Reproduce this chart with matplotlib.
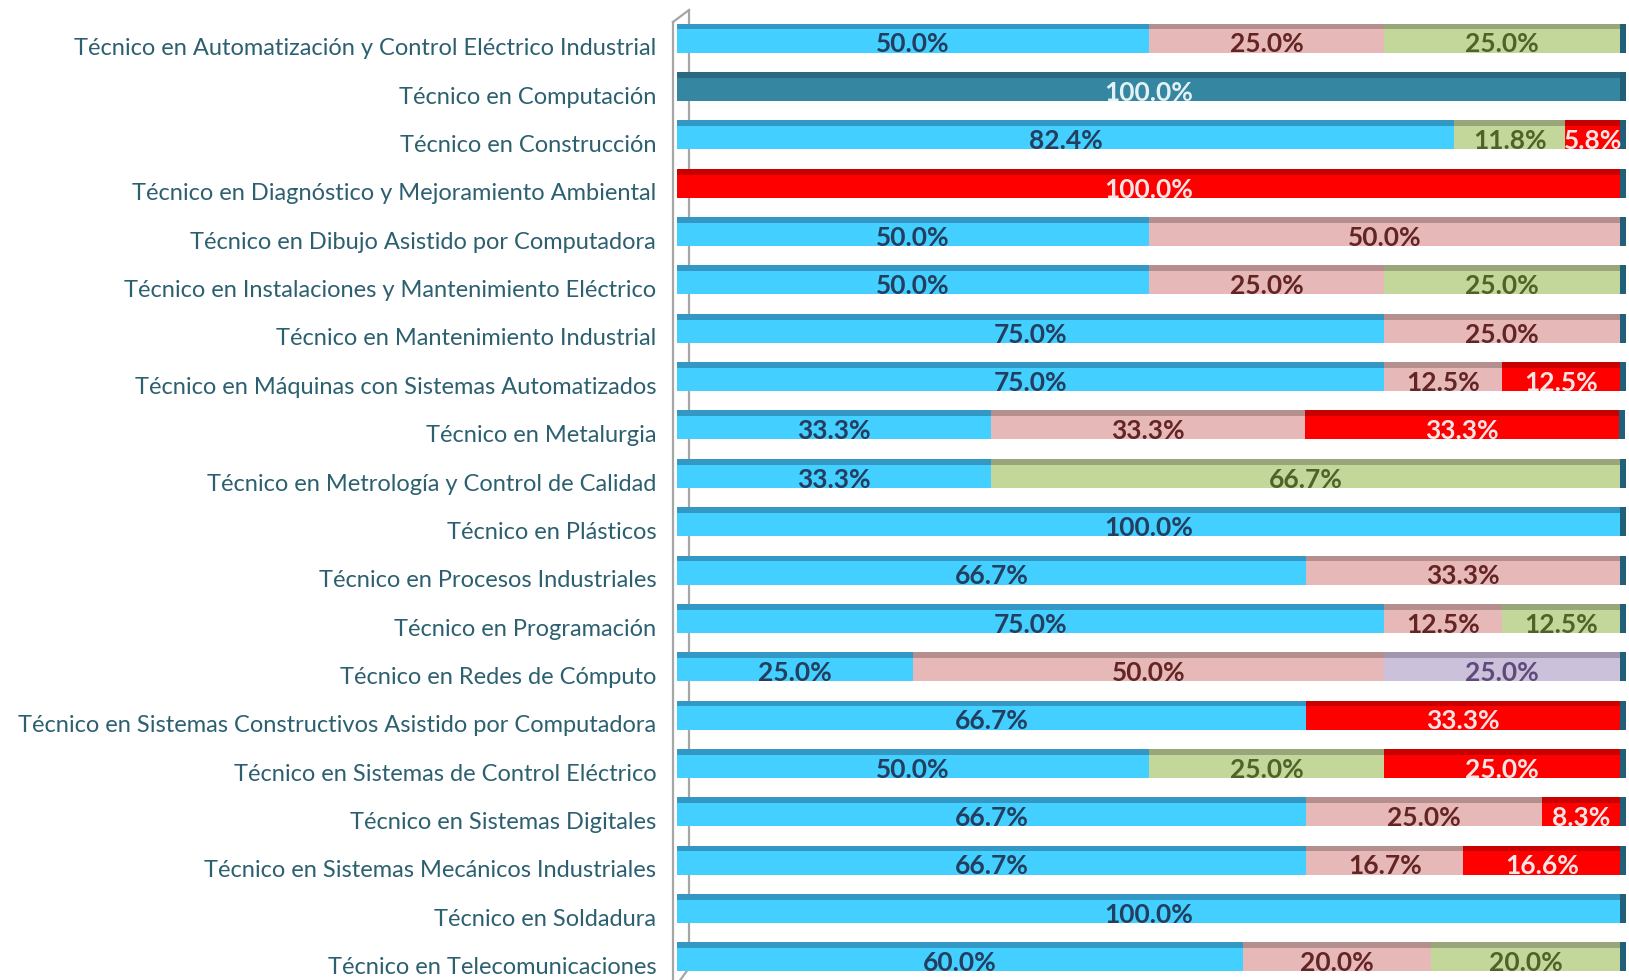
import matplotlib.pyplot as plt
from matplotlib.lines import Line2D
import numpy as np

# Carreras (de arriba hacia abajo)
carreras = [
    "Técnico en Automatización y Control Eléctrico Industrial",
    "Técnico en Computación",
    "Técnico en Construcción",
    "Técnico en Diagnóstico y Mejoramiento Ambiental",
    "Técnico en Dibujo Asistido por Computadora",
    "Técnico en Instalaciones y Mantenimiento Eléctrico",
    "Técnico en Mantenimiento Industrial",
    "Técnico en Máquinas con Sistemas Automatizados",
    "Técnico en Metalurgia",
    "Técnico en Metrología y Control de Calidad",
    "Técnico en Plásticos",
    "Técnico en Procesos Industriales",
    "Técnico en Programación",
    "Técnico en Redes de Cómputo",
    "Técnico en Sistemas Constructivos Asistido por Computadora",
    "Técnico en Sistemas de Control Eléctrico",
    "Técnico en Sistemas Digitales",
    "Técnico en Sistemas Mecánicos Industriales",
    "Técnico en Soldadura",
    "Técnico en Telecomunicaciones",
]

# Porcentajes por serie (orden de apilado)
azul = [50.0, 0, 82.4, 0, 50.0, 50.0, 75.0, 75.0, 33.3, 33.3,
        100.0, 66.7, 75.0, 25.0, 66.7, 50.0, 66.7, 66.7, 100.0, 60.0]
azul_oscuro = [0, 100.0, 0, 0, 0, 0, 0, 0, 0, 0,
               0, 0, 0, 0, 0, 0, 0, 0, 0, 0]
rosa = [25.0, 0, 0, 0, 50.0, 25.0, 25.0, 12.5, 33.3, 0,
        0, 33.3, 12.5, 50.0, 0, 0, 25.0, 16.7, 0, 20.0]
verde = [25.0, 0, 11.8, 0, 0, 25.0, 0, 0, 0, 66.7,
         0, 0, 12.5, 0, 0, 25.0, 0, 0, 0, 20.0]
lila = [0, 0, 0, 0, 0, 0, 0, 0, 0, 0,
        0, 0, 0, 25.0, 0, 0, 0, 0, 0, 0]
rojo = [0, 0, 5.8, 100.0, 0, 0, 0, 12.5, 33.3, 0,
        0, 0, 0, 0, 33.3, 25.0, 8.3, 16.6, 0, 0]

# (valores, cara frontal, cara superior, color del texto)
series = [
    (azul, '#43CFFF', '#3399C4', '#233E5E'),
    (azul_oscuro, '#3587A1', '#296A80', '#E4F1F5'),
    (rosa, '#E6B9B8', '#B48F8E', '#632523'),
    (verde, '#C4D79B', '#98A679', '#4F6228'),
    (lila, '#CCC1DA', '#A096AD', '#604A7B'),
    (rojo, '#FF0000', '#C80000', '#F7E4E4'),
]

W, H = 1629, 980
fig = plt.figure(figsize=(W / 100, H / 100), dpi=100)
ax = fig.add_axes([677 / W, 1 - 981 / H, 952 / W, 967 / H])
ax.patch.set_visible(False)

n = len(carreras)
y = np.arange(n)
izq = np.zeros(n)
for vals, cara, tapa, ctxt in series:
    vals = np.array(vals)
    ax.barh(y + 0.06, vals, left=izq, height=0.48, color=cara, linewidth=0, zorder=3)
    ax.barh(y - 0.24, vals, left=izq, height=0.12, color=tapa, linewidth=0, zorder=3)
    for i, v in enumerate(vals):
        if v > 0:
            ax.text(izq[i] + v / 2, y[i] + 0.13, f'{v:.1f}%', ha='center', va='center',
                    fontsize=19, fontweight='bold', color=ctxt, family='Lato', zorder=5)
    izq += vals

# cara lateral derecha (efecto 3D)
ax.barh(y, 0.6, left=izq, height=0.6, color='#22607A', linewidth=0, zorder=4)

# pared izquierda
gris = '#A6A6A6'
x0, x1 = (673 - 677) / 952, (689 - 677) / 952
yt0, yt1 = 1 - (22 - 14) / 967, 1 - (10 - 14) / 967
yb0, yb1 = 1 - (990 - 14) / 967, 1 - (968 - 14) / 967
for xs, ys in [([x0, x0], [yb0, yt0]), ([x1, x1], [yb1, yt1]),
               ([x0, x1], [yt0, yt1]), ([x0, x1], [yb0, yb1])]:
    ax.add_line(Line2D(xs, ys, transform=ax.transAxes, color=gris, lw=1.6,
                       clip_on=False, zorder=1))

ax.set_xlim(0, 100.95)
ax.set_ylim(n - 0.5, -0.5)
ax.set_yticks(y + 0.18)
ax.set_yticklabels(carreras, fontsize=17, color='#2C6070', family='Lato')
ax.tick_params(axis='y', length=0, pad=15)
ax.set_xticks([])
for s in ax.spines.values():
    s.set_visible(False)

fig.savefig('out.png', dpi=100)
